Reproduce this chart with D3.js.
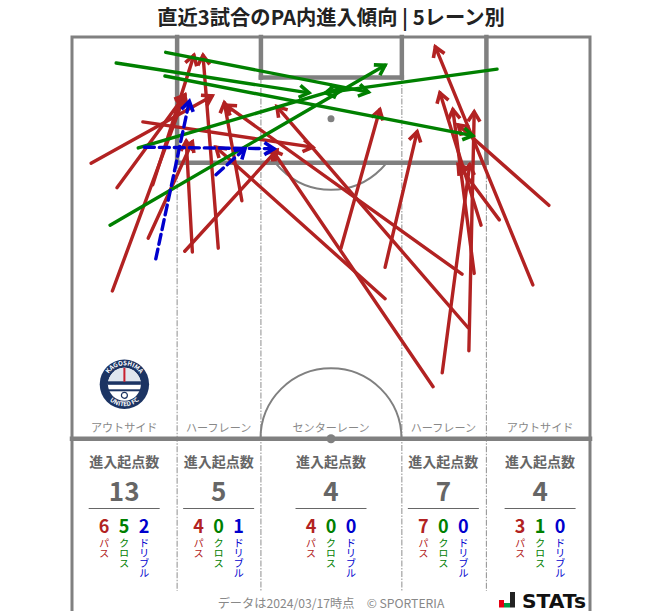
<!DOCTYPE html>
<html lang="ja">
<head>
<meta charset="utf-8">
<title>5レーン別</title>
<script src="https://d3js.org/d3.v7.min.js"></script>
<style>
  html, body { margin: 0; padding: 0; background: #fff; }
  svg { display: block; }
  text { font-family: "Noto Sans CJK JP", "Noto Sans", sans-serif; }
</style>
</head>
<body>
<div id="chart"></div>
<script>
// pitch coordinates in metres: [x1, y1, x2, y2], y measured from the goal line
const passes = [
  [2.5, 16.5, 18.4, 7.7], [5.9, 19.7, 14.8, 7.6], [10.6, 19.3, 16.0, 2.4],
  [5.3, 33.2, 14.8, 7.6], [10.0, 26.3, 15.8, 13.7], [9.3, 11.1, 31.6, 14.4],
  [15.8, 28.1, 15.0, 13.6], [19.2, 27.6, 17.2, 2.4], [14.8, 28.0, 26.9, 14.8],
  [22.3, 21.4, 20.0, 8.6],
  [41.1, 34.2, 18.9, 14.4], [35.3, 27.6, 40.4, 9.5], [41.1, 30.1, 45.3, 12.4],
  [47.4, 45.7, 26.3, 14.8], [51.2, 31.0, 20.2, 8.9], [52.0, 38.0, 26.9, 9.1],
  [48.6, 43.9, 52.2, 16.7], [52.1, 41.0, 52.8, 9.8], [52.8, 30.9, 50.0, 9.5],
  [53.7, 24.6, 48.3, 7.3],
  [60.5, 32.4, 47.7, 1.3], [62.6, 22.0, 50.7, 11.5], [56.1, 23.9, 50.7, 16.7]
];
const crosses = [
  [5.8, 3.4, 31.1, 7.3], [12.3, 2.0, 38.9, 7.2], [12.2, 5.1, 52.6, 12.9],
  [8.7, 14.5, 35.3, 6.7], [5.0, 24.6, 41.1, 3.7], [55.8, 4.2, 33.3, 7.3]
];
const dribbles = [
  [11.0, 29.0, 15.4, 8.4], [9.5, 14.4, 26.5, 14.6], [18.9, 18.0, 22.7, 14.6]
];

const laneNames = ["アウトサイド", "ハーフレーン", "センターレーン", "ハーフレーン", "アウトサイド"];
const laneTotals = [13, 5, 4, 7, 4];
const lanePasses = [6, 4, 4, 7, 3];
const laneCrosses = [5, 0, 0, 0, 1];
const laneDribbles = [2, 1, 0, 0, 0];
const typeNames = ["パス", "クロス", "ドリブル"];

const width = 663, height = 611;
const RED = "#b22222", GREEN = "#008000", BLUE = "#0000cd";
const LINE = "#808080", TEXT = "#666666";

const svg = d3.select("#chart").append("svg")
  .attr("width", width)
  .attr("height", height);

const x = d3.scaleLinear().domain([0, 68]).range([72, 590]);
const y = d3.scaleLinear().domain([0, 52.5]).range([37, 438.7]);
const len = d3.scaleLinear().domain([0, 68]).range([0, 518]);

// pitch landmarks in metres
const boxL = 13.8, boxR = 54.4, goalL = 24.8, goalR = 43.3, midX = 34;
const boxD = 16.45, goalD = 5.3, spotD = 10.7;
const laneEdges = [boxL, goalL, goalR, boxR];
const laneCenters = [6.85, 19.25, 34, 48.75, 61.45];

// arrow heads
const defs = svg.append("defs");
[["red", RED], ["green", GREEN], ["blue", BLUE]].forEach(([id, c]) => {
  defs.append("marker")
    .attr("id", "head-" + id)
    .attr("markerUnits", "userSpaceOnUse")
    .attr("viewBox", "-13 -9 18 18")
    .attr("markerWidth", 18)
    .attr("markerHeight", 18)
    .attr("refX", 0)
    .attr("refY", 0)
    .attr("orient", "auto")
    .append("path")
    .attr("d", "M-9.5,-6L0,0L-9.5,6")
    .attr("fill", "none")
    .attr("stroke", c)
    .attr("stroke-width", 3.6);
});

defs.append("clipPath").attr("id", "below-box").append("rect")
  .attr("x", x(0)).attr("y", y(boxD))
  .attr("width", len(68)).attr("height", 60);

// lane dividers
const pitch = svg.append("g");
pitch.selectAll("line.lane")
  .data(laneEdges)
  .join("line")
  .attr("class", "lane")
  .attr("x1", d => x(d))
  .attr("x2", d => x(d))
  .attr("y1", d => (d === goalL || d === goalR) ? y(goalD) : y(boxD))
  .attr("y2", 591)
  .attr("stroke", "#999")
  .attr("stroke-width", 1.1)
  .attr("stroke-dasharray", "6 1.5 1.5 1.5");

// outer frame, open at the bottom
pitch.append("path")
  .attr("d", `M${x(0)},${height + 5}V${y(0)}H${x(68)}V${height + 5}`)
  .attr("fill", "none")
  .attr("stroke", LINE)
  .attr("stroke-width", 3);

// penalty box and goal area
const boxLines = [
  [boxL, 0, boxL, boxD], [boxL, boxD, boxR, boxD], [boxR, boxD, boxR, 0],
  [goalL, 0, goalL, goalD], [goalL, goalD, goalR, goalD], [goalR, goalD, goalR, 0],
  [0, 52.5, 68, 52.5]
];
pitch.selectAll("line.box")
  .data(boxLines)
  .join("line")
  .attr("class", "box")
  .attr("x1", d => x(d[0]))
  .attr("y1", d => y(d[1]))
  .attr("x2", d => x(d[2]))
  .attr("y2", d => y(d[3]))
  .attr("stroke", LINE)
  .attr("stroke-width", 4.5)
  .attr("stroke-linecap", "square");

// penalty arc, spot, centre circle
pitch.append("circle")
  .attr("cx", x(midX)).attr("cy", y(spotD)).attr("r", len(9.3))
  .attr("fill", "none").attr("stroke", LINE).attr("stroke-width", 2)
  .attr("clip-path", "url(#below-box)");
pitch.append("circle")
  .attr("cx", x(midX)).attr("cy", y(spotD)).attr("r", 3.5).attr("fill", LINE);
const arc = d3.arc()
  .innerRadius(len(9.25)).outerRadius(len(9.25))
  .startAngle(-Math.PI / 2).endAngle(Math.PI / 2);
pitch.append("path")
  .attr("d", arc())
  .attr("transform", `translate(${x(midX)},${y(52.5)})`)
  .attr("fill", "none").attr("stroke", LINE).attr("stroke-width", 2);
pitch.append("circle")
  .attr("cx", x(midX)).attr("cy", y(52.5)).attr("r", 4.5).attr("fill", LINE);

// title
svg.append("text")
  .attr("x", 331)
  .attr("y", 25)
  .attr("text-anchor", "middle")
  .attr("font-size", 20.3)
  .attr("font-weight", 700)
  .attr("fill", "#222")
  .text("直近3試合のPA内進入傾向 | 5レーン別");

// club badge
const badge = svg.append("g").attr("transform", "translate(124.4,384.3)");
badge.append("circle").attr("r", 24.7).attr("fill", "#1c3463");
badge.append("circle").attr("r", 16.5).attr("fill", "#fff");
badge.append("path")
  .attr("d", d3.arc().innerRadius(0).outerRadius(16.5).startAngle(-Math.PI / 2).endAngle(Math.PI / 2)())
  .attr("fill", "#dfe6ee");
badge.append("rect").attr("x", -16.5).attr("y", -3).attr("width", 33).attr("height", 3.5).attr("fill", "#1c3463");
badge.append("rect").attr("x", -16).attr("y", 5).attr("width", 32).attr("height", 2).attr("fill", "#1c3463");
badge.append("rect").attr("x", -1).attr("y", -16.5).attr("width", 2).attr("height", 14).attr("fill", "#c8202f");
badge.append("circle").attr("cy", 11).attr("r", 3).attr("fill", "none").attr("stroke", "#1c3463").attr("stroke-width", 1.2);
badge.append("path").attr("id", "badge-top").attr("d", "M-19,0A19,19 0 0 1 19,0").attr("fill", "none");
badge.append("path").attr("id", "badge-bottom").attr("d", "M-22,0A22,22 0 0 0 22,0").attr("fill", "none");
[["badge-top", "KAGOSHIMA"], ["badge-bottom", "UNITED FC"]].forEach(([id, label]) => {
  badge.append("text")
    .attr("font-size", 6.2)
    .attr("font-weight", 700)
    .attr("fill", "#fff")
    .attr("text-anchor", "middle")
    .append("textPath")
    .attr("href", "#" + id)
    .attr("startOffset", "50%")
    .text(label);
});

// arrows
function drawArrows(data, color, id, dash) {
  svg.append("g").selectAll("line")
    .data(data)
    .join("line")
    .attr("x1", d => x(d[0]))
    .attr("y1", d => y(d[1]))
    .attr("x2", d => x(d[2]))
    .attr("y2", d => y(d[3]))
    .attr("stroke", color)
    .attr("stroke-width", 3.4)
    .attr("stroke-linecap", "round")
    .attr("stroke-dasharray", dash)
    .attr("marker-end", `url(#head-${id})`);
}
drawArrows(passes, RED, "red", null);
drawArrows(crosses, GREEN, "green", null);
drawArrows(dribbles, BLUE, "blue", "10 5");

// lane summaries
const lanes = svg.append("g").selectAll("g")
  .data(laneNames.map((name, i) => ({ name, i, cx: x(laneCenters[i]) })))
  .join("g")
  .attr("transform", d => `translate(${d.cx},0)`);

lanes.append("text")
  .attr("y", 432)
  .attr("text-anchor", "middle")
  .attr("font-size", 11.1)
  .attr("fill", "#888")
  .text(d => d.name);

lanes.append("text")
  .attr("y", 467)
  .attr("text-anchor", "middle")
  .attr("font-size", 14)
  .attr("font-weight", 700)
  .attr("fill", TEXT)
  .text("進入起点数");

lanes.append("text")
  .attr("y", 501)
  .attr("text-anchor", "middle")
  .attr("font-size", 26)
  .attr("font-weight", 700)
  .attr("fill", TEXT)
  .text(d => laneTotals[d.i]);

lanes.append("line")
  .attr("x1", -35.5)
  .attr("x2", 35.5)
  .attr("y1", 508.5)
  .attr("y2", 508.5)
  .attr("stroke", TEXT)
  .attr("stroke-width", 1);

const typeX = d3.scalePoint().domain(typeNames).range([-20, 20]);
const typeColor = d3.scaleOrdinal().domain(typeNames).range([RED, GREEN, BLUE]);
const typeValues = [lanePasses, laneCrosses, laneDribbles];

typeNames.forEach((t, k) => {
  lanes.append("text")
    .attr("x", typeX(t))
    .attr("y", 533)
    .attr("text-anchor", "middle")
    .attr("font-size", 18)
    .attr("font-weight", 700)
    .attr("fill", typeColor(t))
    .text(d => typeValues[k][d.i]);
  lanes.append("text")
    .attr("transform", `translate(${typeX(t)},538)`)
    .attr("writing-mode", "vertical-rl")
    .attr("font-size", 10.3)
    .attr("letter-spacing", -0.2)
    .attr("fill", typeColor(t))
    .text(t);
});

// footer
svg.append("text")
  .attr("x", 331)
  .attr("y", 608)
  .attr("text-anchor", "middle")
  .attr("font-size", 12.2)
  .attr("fill", "#888")
  .text("データは2024/03/17時点　© SPORTERIA");

// STATS mark
const mark = svg.append("g");
const markBars = [[499, 600, 5, "#e60012"], [504, 603, 6, "#009944"], [510, 592, 5, "#222"]];
mark.selectAll("rect")
  .data(markBars)
  .join("rect")
  .attr("x", d => d[0])
  .attr("y", d => d[1])
  .attr("width", d => d[2])
  .attr("height", d => 607.5 - d[1])
  .attr("fill", d => d[3]);
mark.append("text")
  .attr("x", 522)
  .attr("y", 607.5)
  .attr("font-size", 19.5)
  .attr("font-weight", 700)
  .attr("fill", "#111")
  .attr("textLength", 64)
  .attr("lengthAdjust", "spacingAndGlyphs")
  .style("font-family", "'DejaVu Sans', sans-serif")
  .text("STATs");
</script>
</body>
</html>
